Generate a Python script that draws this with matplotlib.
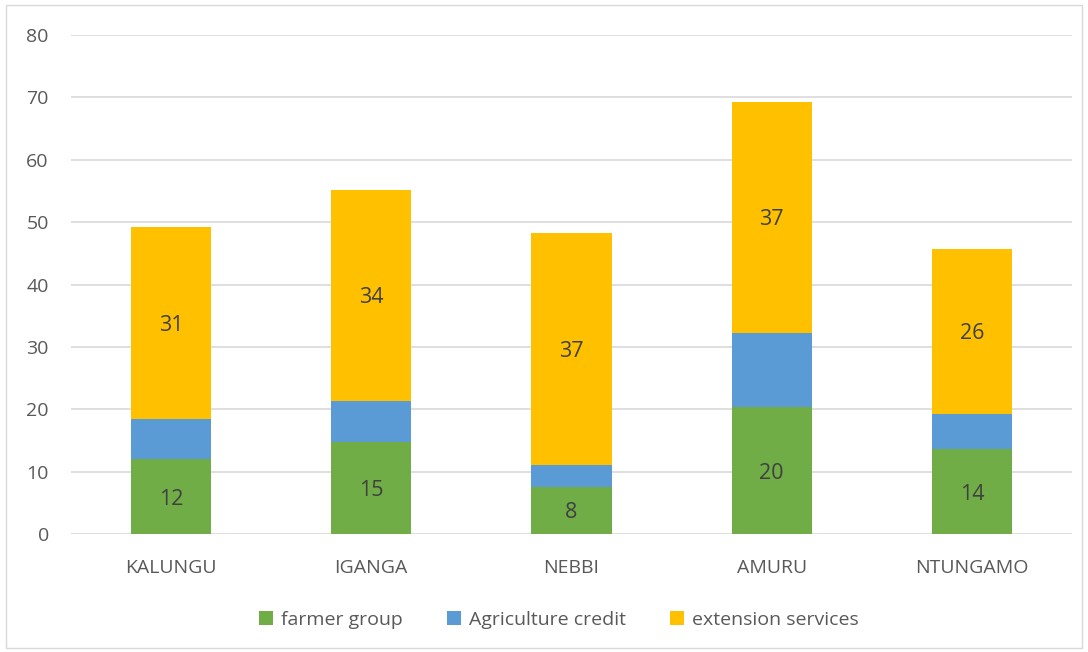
import matplotlib.pyplot as plt
import numpy as np
from matplotlib.patches import Rectangle

# districts and series values
districts = ['KALUNGU', 'IGANGA', 'NEBBI', 'AMURU', 'NTUNGAMO']
farmer_group = [12.0, 14.7, 7.6, 20.3, 13.6]
agri_credit = [6.4, 6.6, 3.5, 12.0, 5.7]
extension = [30.8, 33.9, 37.2, 36.9, 26.4]

plt.rcParams['font.family'] = ['Open Sans', 'DejaVu Sans']

fig = plt.figure(figsize=(10.88, 6.52), dpi=100)
ax = fig.add_axes([71 / 1088, 1 - 534 / 652, 1001 / 1088, 499 / 652])

x = np.arange(len(districts))
w = 0.4
fg = np.array(farmer_group)
ac = np.array(agri_credit)
ex = np.array(extension)

b1 = ax.bar(x, fg, w, color='#70AD47', label='farmer group', zorder=3)
b2 = ax.bar(x, ac, w, bottom=fg, color='#5B9BD5', label='Agriculture credit', zorder=3)
b3 = ax.bar(x, ex, w, bottom=fg + ac, color='#FFC000', label='extension services', zorder=3)

# labels only on the first and last series
for bars in (b1, b3):
    for r in bars:
        ax.text(r.get_x() + r.get_width() / 2, r.get_y() + r.get_height() / 2,
                f'{r.get_height():.0f}', ha='center', va='center_baseline',
                fontsize=15.5, color='#404040', zorder=4)

ax.set_xlim(-0.5, len(districts) - 0.5)
ax.set_ylim(0, 80)
ax.set_yticks(range(0, 81, 10))
ax.set_xticks(x)
ax.set_xticklabels(districts)
ax.grid(axis='y', color='#D9D9D9', linewidth=1.2, zorder=0)
for s in ax.spines.values():
    s.set_visible(False)
ax.tick_params(axis='both', length=0, labelsize=14, labelcolor='#595959')
ax.tick_params(axis='x', pad=18)
ax.tick_params(axis='y', pad=16)

fig.legend(loc='center', bbox_to_anchor=(559 / 1088, 1 - 620 / 652), ncol=3, frameon=False,
           fontsize=14, labelcolor='#595959', handlelength=0.7, handleheight=0.7,
           handletextpad=0.4, columnspacing=2.3)

# light outer chart border
fig.patches.append(Rectangle((6 / 1088, 4 / 652), 1076 / 1088, 643 / 652,
                             transform=fig.transFigure, fill=False,
                             edgecolor='#D9D9D9', linewidth=1))

fig.savefig('out.png', dpi=100)
